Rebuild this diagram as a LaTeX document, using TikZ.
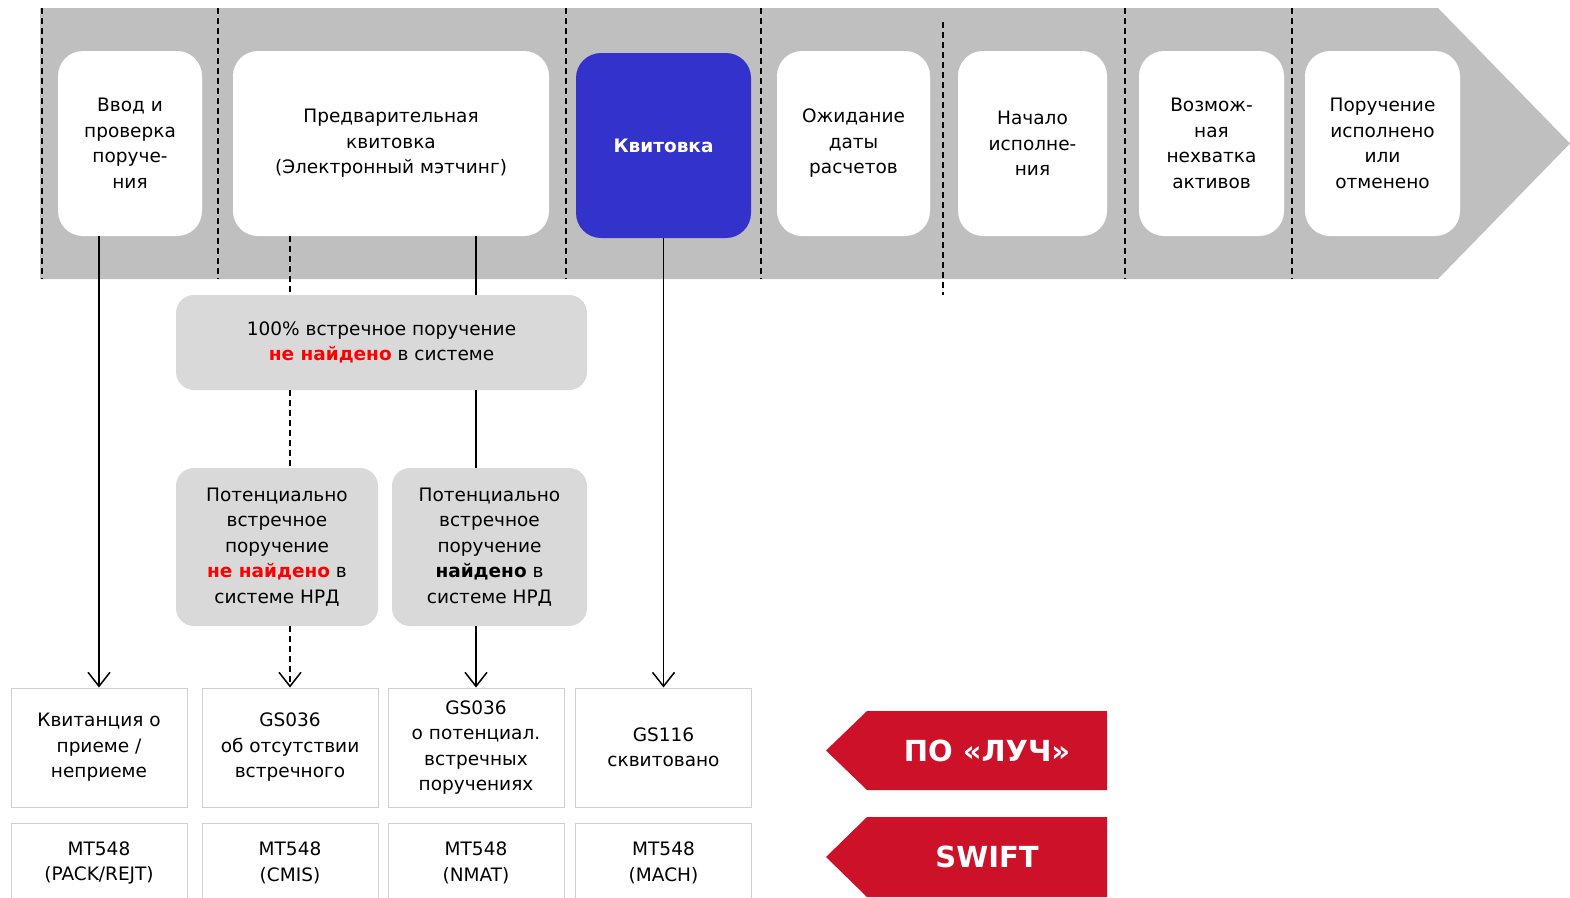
\documentclass[tikz,border=0pt]{standalone}
\usepackage{fontspec}
\setmainfont{DejaVu Sans}
\usetikzlibrary{arrows.meta}

\definecolor{bandgray}{RGB}{191,191,191}
\definecolor{boxgray}{RGB}{217,217,217}
\definecolor{linegray}{RGB}{208,208,208}
\definecolor{kvitblue}{RGB}{51,51,204}
\definecolor{luchred}{RGB}{204,17,40}
\newcommand{\txt}{\fontsize{18.5}{25.5}\selectfont}
\newcommand{\nf}{\textcolor{red}{\textbf{не найдено}}}

\begin{document}
\begin{tikzpicture}[x=1pt,y=-1pt,
    stage/.style={rectangle,rounded corners=25pt,fill=white,align=center,font=\txt,inner sep=0pt,minimum height=185},
    check/.style={rectangle,rounded corners=18pt,fill=boxgray,align=center,font=\txt,inner sep=0pt},
    msg/.style={rectangle,draw=linegray,line width=1pt,fill=white,align=center,font=\txt,inner sep=0pt,minimum width=176},
    sep/.style={line width=1.5pt,dash pattern=on 6pt off 4pt},
    link/.style={line width=1.5pt,-{Straight Barb[length=14pt,width=22pt,line width=1.5pt]}},
    tag/.style={text=white,font=\fontsize{29}{34}\selectfont\bfseries}]
  \useasboundingbox (0,0) rectangle (1570,897);

  % band
  \fill[bandgray] (40,8) -- (1438,8) -- (1570,143.5) -- (1438,279) -- (40,279) -- cycle;
  \foreach \x in {42,218,566,761,1125,1292}
    \draw[sep] (\x,8) -- (\x,279);
  \draw[sep] (943,22) -- (943,295);

  % stages
  \node[stage,minimum width=144] (vvod) at (130,143.5) {Ввод и\\проверка\\поруче-\\ния};
  \node[stage,minimum width=316] (pre) at (391,143.5) {Предварительная\\квитовка\\(Электронный мэтчинг)};
  \node[stage,minimum width=175,fill=kvitblue,text=white,font=\txt\bfseries] (kvit) at (663.5,145.5) {Квитовка};
  \node[stage,minimum width=153] (wait) at (853.5,143.5) {Ожидание\\даты\\расчетов};
  \node[stage,minimum width=149] (start) at (1032.5,143.5) {Начало\\исполне-\\ния};
  \node[stage,minimum width=145] (lack) at (1211.5,143.5) {Возмож-\\ная\\нехватка\\активов};
  \node[stage,minimum width=155] (done) at (1382.5,143.5) {Поручение\\исполнено\\или\\отменено};

  % matching checks
  \node[check,minimum width=411,minimum height=95] (full) at (381.5,342.5) {100\% встречное поручение\\\nf{} в системе};
  \node[check,minimum width=202,minimum height=158] (potno) at (277,547) {Потенциально\\встречное\\поручение\\\nf{} в\\системе НРД};
  \node[check,minimum width=195,minimum height=158] (potyes) at (489.5,547) {Потенциально\\встречное\\поручение\\\textbf{найдено} в\\системе НРД};

  % messages
  \node[msg,minimum height=119] (rcpt) at (99,747.5) {Квитанция о\\приеме /\\неприеме};
  \node[msg,minimum height=119] (gsno) at (290,747.5) {GS036\\об отсутствии\\встречного};
  \node[msg,minimum height=119] (gspot) at (476,747.5) {GS036\\о потенциал.\\встречных\\поручениях};
  \node[msg,minimum height=119] (gsok) at (663.5,747.5) {GS116\\сквитовано};
  \node[msg,minimum height=80] (mtrcpt) at (99,863) {MT548\\(PACK/REJT)};
  \node[msg,minimum height=80] (mtno) at (290,863) {MT548\\(CMIS)};
  \node[msg,minimum height=80] (mtpot) at (476,863) {MT548\\(NMAT)};
  \node[msg,minimum height=80] (mtok) at (663.5,863) {MT548\\(MACH)};

  % connectors
  \draw[link] (vvod.south -| rcpt.north) -- (rcpt.north);
  \draw[sep] (pre.south -| gsno.north) -- (full.north -| gsno.north);
  \draw[sep] (full.south -| gsno.north) -- (potno.north -| gsno.north);
  \draw[link,sep] (potno.south -| gsno.north) -- (gsno.north);
  \draw[line width=1.5pt] (pre.south -| gspot.north) -- (full.north -| gspot.north);
  \draw[line width=1.5pt] (full.south -| gspot.north) -- (potyes.north -| gspot.north);
  \draw[link] (potyes.south -| gspot.north) -- (gspot.north);
  \draw[link] (kvit.south) -- (gsok.north);

  % systems
  \fill[luchred] (826,750.5) -- (867,711) -- (1107,711) -- (1107,790) -- (867,790) -- cycle;
  \node[tag] (luch) at (987,750.5) {ПО «ЛУЧ»};
  \fill[luchred] (826,857) -- (867,817) -- (1107,817) -- (1107,897) -- (867,897) -- cycle;
  \node[tag] (swift) at (987,857) {SWIFT};
\end{tikzpicture}
\end{document}
